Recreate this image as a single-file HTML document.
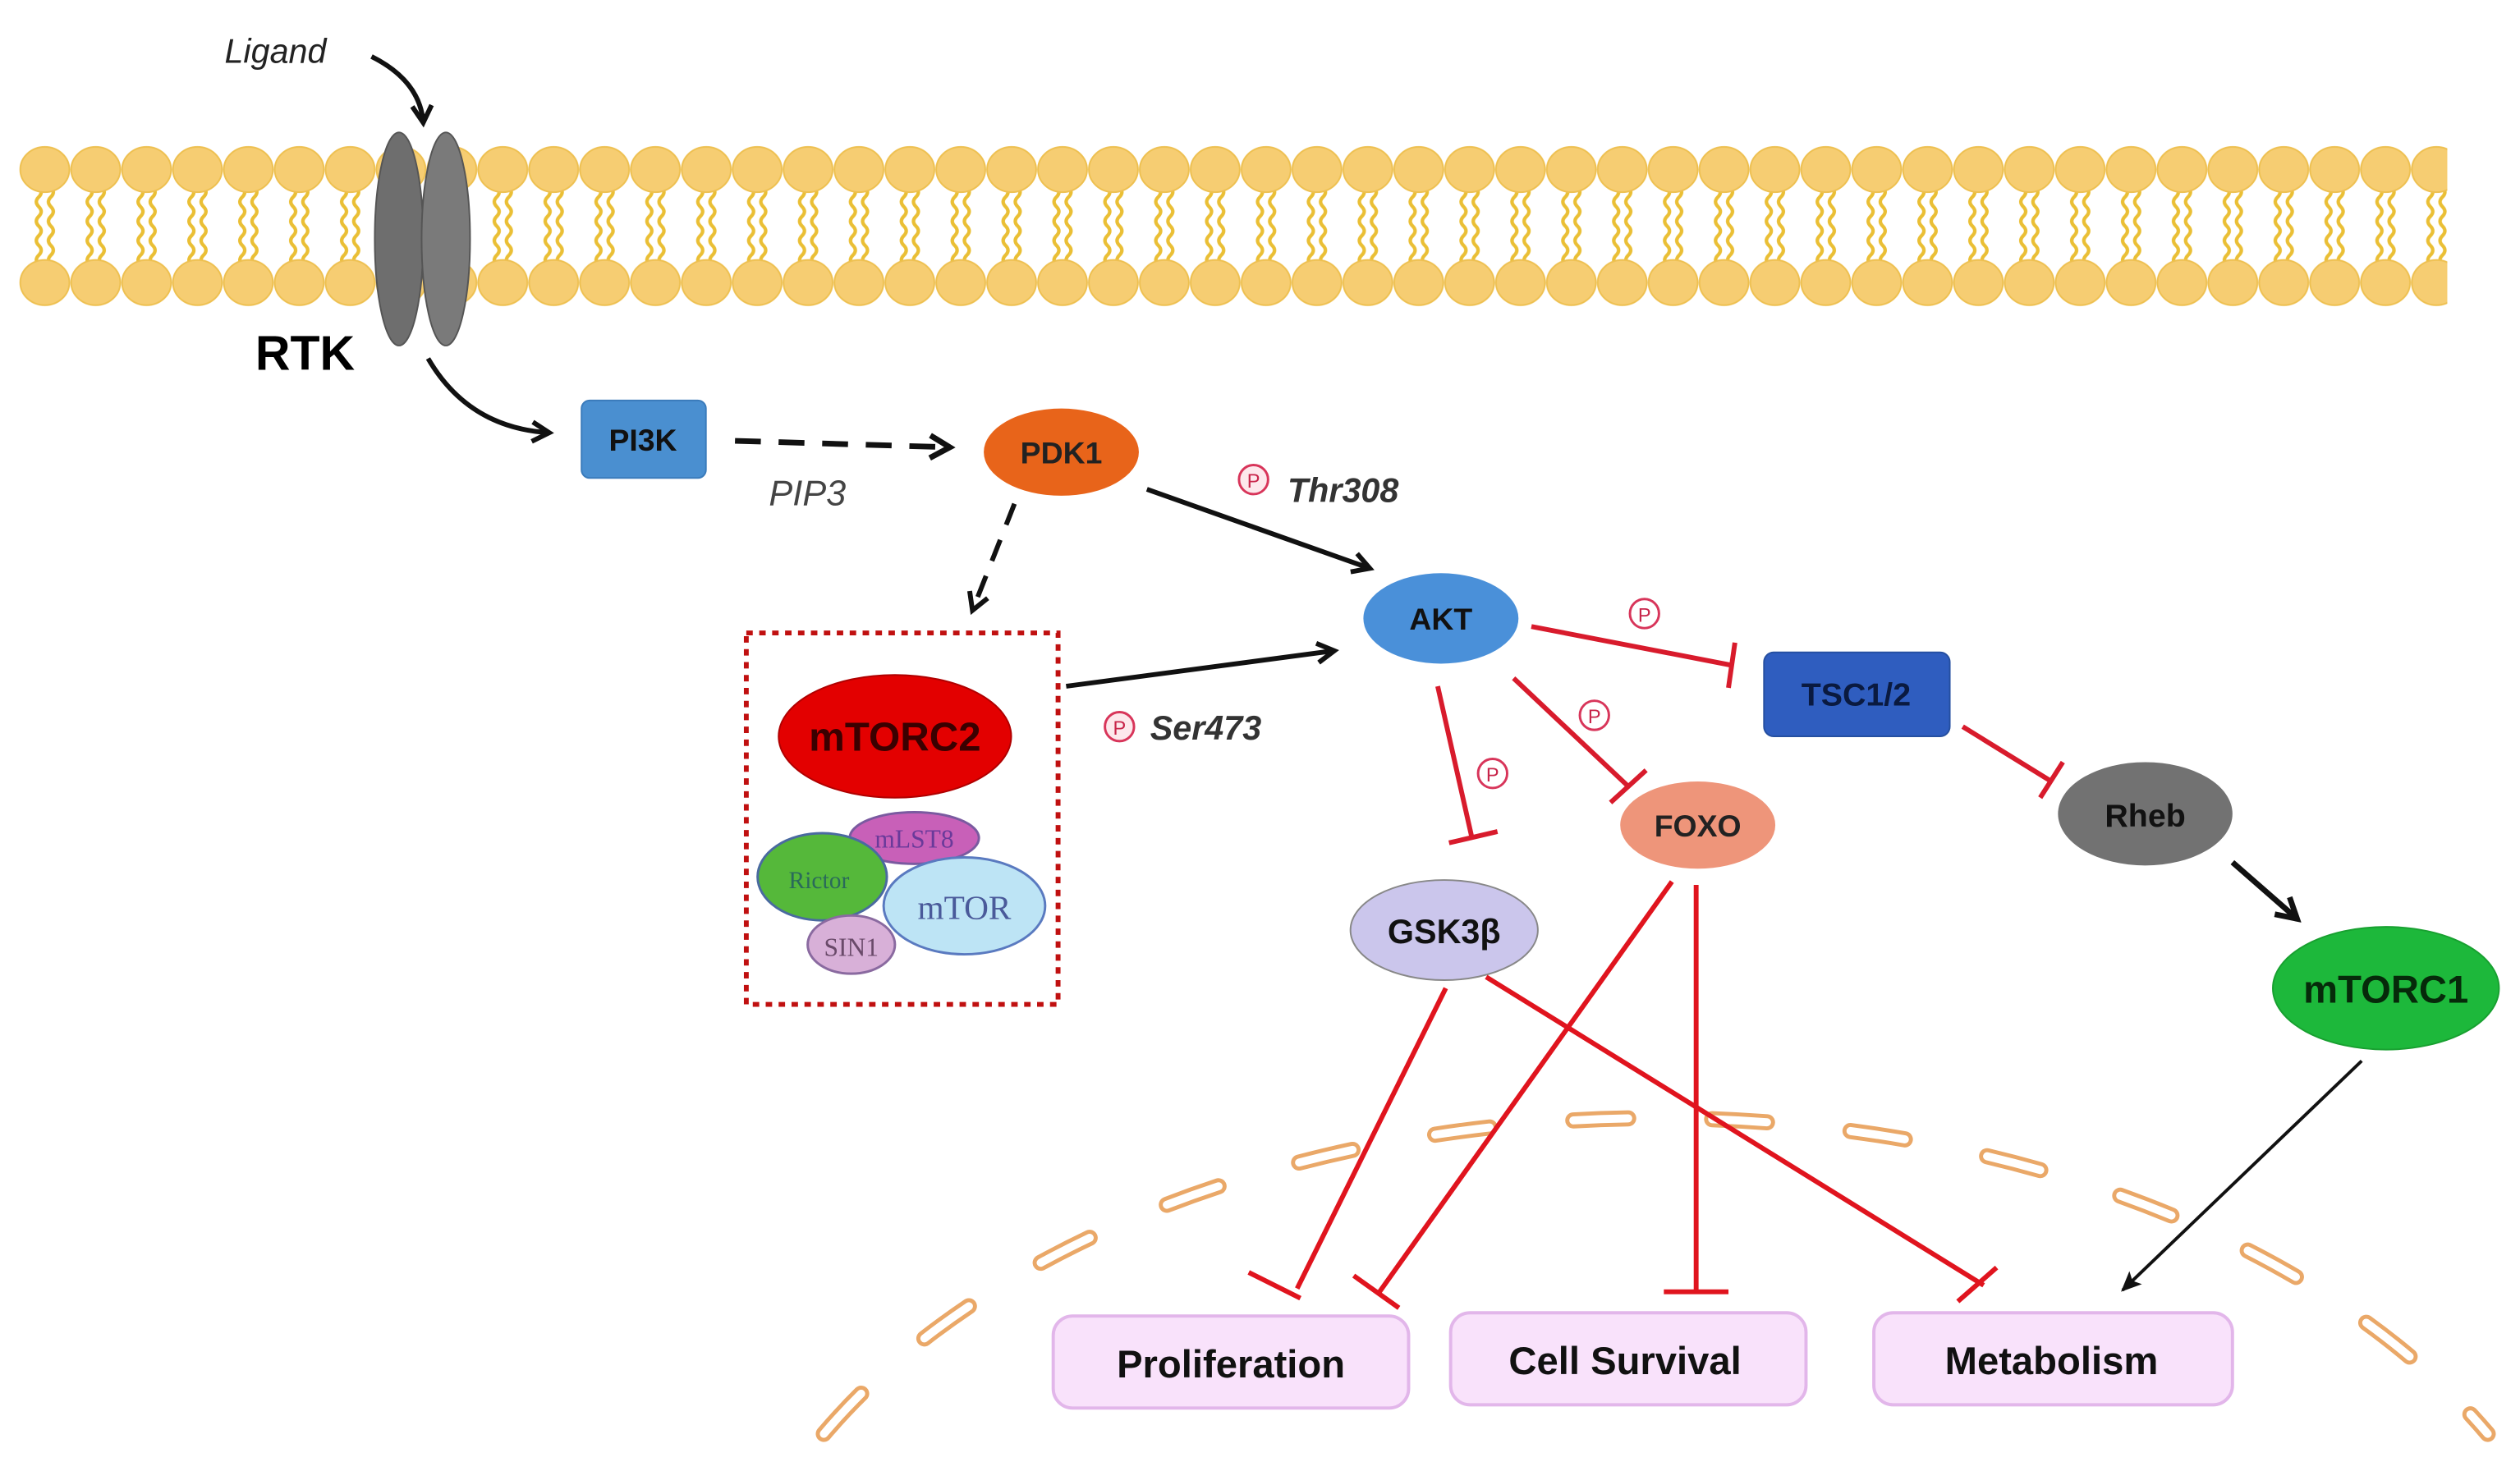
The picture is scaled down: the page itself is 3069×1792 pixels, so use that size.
<!DOCTYPE html>
<html><head><meta charset="utf-8"><style>
html,body{margin:0;padding:0;background:#fff;width:3069px;height:1792px;overflow:hidden;}
svg{display:block;position:absolute;left:0;top:0;}
text{font-family:"Liberation Sans",sans-serif;}
</style></head><body>
<svg width="3069" height="1792" viewBox="0 0 1560 911" preserveAspectRatio="none" xmlns="http://www.w3.org/2000/svg">
<defs>
<pattern id="lip" x="12" y="88" width="31.5" height="104" patternUnits="userSpaceOnUse">
 <path d="M12 28 q3 3 0 6 q-3 3 0 6 q3 3 0 6 q-3 3 0 6 q3 3 0 6 q-3 3 0 6 q3 3 0 6 q-3 3 0 6 q3 3 0 6" fill="none" stroke="#eabf35" stroke-width="2.2"/>
 <path d="M19.5 28 q3 3 0 6 q-3 3 0 6 q3 3 0 6 q-3 3 0 6 q3 3 0 6 q-3 3 0 6 q3 3 0 6 q-3 3 0 6 q3 3 0 6" fill="none" stroke="#eabf35" stroke-width="2.2"/>
 <ellipse cx="15.75" cy="17" rx="15.2" ry="14" fill="#f6cd72" stroke="#eec050" stroke-width="1"/>
 <ellipse cx="15.75" cy="87" rx="15.2" ry="14" fill="#f6cd72" stroke="#eec050" stroke-width="1"/>
</pattern>
<marker id="ab" viewBox="0 0 10 10" refX="8" refY="5" markerWidth="5" markerHeight="5" orient="auto"><path d="M1 1 L8 5 L1 9" fill="none" stroke="#111" stroke-width="2"/></marker>
<marker id="abs" viewBox="0 0 10 10" refX="8" refY="5" markerWidth="7" markerHeight="7" orient="auto"><path d="M0 1 L9 5 L0 9 L2 5 Z" fill="#111"/></marker>
</defs>

<rect x="12" y="88" width="1503" height="104" fill="url(#lip)"/>
<ellipse cx="247" cy="148" rx="15" ry="66" fill="#6e6e6e" stroke="#555" stroke-width="1"/>
<ellipse cx="276" cy="148" rx="15" ry="66" fill="#7a7a7a" stroke="#555" stroke-width="1"/>

<path d="M510 888 A585 372 0 0 1 1540 888" fill="none" stroke="#eaa868" stroke-width="10" stroke-dasharray="34 52" stroke-linecap="round"/>
<path d="M510 888 A585 372 0 0 1 1540 888" fill="none" stroke="#fff" stroke-width="5" stroke-dasharray="34 52" stroke-linecap="round"/>

<text x="139" y="39" font-size="21" font-style="italic" fill="#222">Ligand</text>
<path d="M230 35 Q260 50 262 76" fill="none" stroke="#111" stroke-width="3" marker-end="url(#ab)"/>
<text x="158" y="229" font-size="30" font-weight="bold" fill="#000">RTK</text>
<path d="M265 222 Q290 265 340 268" fill="none" stroke="#111" stroke-width="3" marker-end="url(#ab)"/>

<rect x="360" y="248" width="77" height="48" rx="5" fill="#4a8fd0" stroke="#3a7bbb"/>
<text x="398" y="279" font-size="19" font-weight="bold" text-anchor="middle" fill="#111">PI3K</text>
<line x1="455" y1="273" x2="588" y2="277" stroke="#111" stroke-width="3.5" stroke-dasharray="16 11" marker-end="url(#ab)"/>
<text x="476" y="313" font-size="22" font-style="italic" fill="#444">PIP3</text>

<ellipse cx="657" cy="280" rx="48" ry="27" fill="#e8641a"/>
<text x="657" y="287" font-size="19" font-weight="bold" text-anchor="middle" fill="#222">PDK1</text>
<line x1="628" y1="312" x2="602" y2="378" stroke="#111" stroke-width="3" stroke-dasharray="14 10" marker-end="url(#ab)"/>

<circle cx="776" cy="297" r="9" fill="#fde8ec" stroke="#d8355a" stroke-width="1.5"/><text x="776" y="302" font-size="12" text-anchor="middle" fill="#c8254a">P</text>
<text x="797" y="311" font-size="21" font-style="italic" font-weight="bold" fill="#333">Thr308</text>
<line x1="710" y1="303" x2="848" y2="352" stroke="#111" stroke-width="3" marker-end="url(#ab)"/>

<ellipse cx="892" cy="383" rx="48" ry="28" fill="#4a90d9"/>
<text x="892" y="390" font-size="19" font-weight="bold" text-anchor="middle" fill="#111">AKT</text>

<rect x="462" y="392" width="193" height="230" fill="none" stroke="#c01010" stroke-width="3" stroke-dasharray="4 4"/>
<ellipse cx="554" cy="456" rx="72" ry="38" fill="#e30000" stroke="#b00000"/>
<text x="554" y="465" font-size="25" font-weight="bold" text-anchor="middle" fill="#3a0000">mTORC2</text>
<ellipse cx="566" cy="519" rx="40" ry="16" fill="#c860b8" stroke="#7a5aa0" stroke-width="1.5"/>
<ellipse cx="509" cy="543" rx="40" ry="27" fill="#55b83a" stroke="#4a6aa0" stroke-width="1.5"/>
<ellipse cx="597" cy="561" rx="50" ry="30" fill="#bde4f5" stroke="#5a7ac0" stroke-width="1.5"/>
<ellipse cx="527" cy="585" rx="27" ry="18" fill="#d8b0d8" stroke="#8a6aa0" stroke-width="1.5"/>
<text x="566" y="525" font-size="16" text-anchor="middle" fill="#6a3a9a" style="font-family:'Liberation Serif',serif">mLST8</text>
<text x="507" y="550" font-size="15" text-anchor="middle" fill="#2a6a5a" style="font-family:'Liberation Serif',serif">Rictor</text>
<text x="597" y="569" font-size="21" text-anchor="middle" fill="#4a5a9a" style="font-family:'Liberation Serif',serif">mTOR</text>
<text x="527" y="592" font-size="16" text-anchor="middle" fill="#6a4a6a" style="font-family:'Liberation Serif',serif">SIN1</text>

<line x1="660" y1="425" x2="826" y2="403" stroke="#111" stroke-width="3" marker-end="url(#ab)"/>
<circle cx="693" cy="450" r="9" fill="#fde8ec" stroke="#d8355a" stroke-width="1.5"/><text x="693" y="455" font-size="12" text-anchor="middle" fill="#c8254a">P</text>
<text x="712" y="458" font-size="21" font-style="italic" font-weight="bold" fill="#333">Ser473</text>

<g stroke="#d81b2c" stroke-width="3" fill="none">
<line x1="948" y1="388" x2="1072" y2="412"/><line x1="1074" y1="398" x2="1070" y2="426"/>
<line x1="937" y1="420" x2="1008" y2="487"/><line x1="997" y1="497" x2="1019" y2="477"/>
<line x1="890" y1="425" x2="911" y2="518"/><line x1="897" y1="522" x2="927" y2="515"/>
<line x1="1215" y1="450" x2="1270" y2="484"/><line x1="1263" y1="494" x2="1277" y2="472"/>
</g>
<g fill="#fff" stroke="#d8355a" stroke-width="1.5">
<circle cx="1018" cy="380" r="9"/><circle cx="987" cy="443" r="9"/><circle cx="924" cy="479" r="9"/>
</g>
<g font-size="12" text-anchor="middle" fill="#c8254a">
<text x="1018" y="385">P</text><text x="987" y="448">P</text><text x="924" y="484">P</text>
</g>

<rect x="1092" y="404" width="115" height="52" rx="6" fill="#2f5dbf" stroke="#254fa0"/>
<text x="1149" y="437" font-size="20" font-weight="bold" text-anchor="middle" fill="#0a1a40">TSC1/2</text>

<ellipse cx="1051" cy="511" rx="48" ry="27" fill="#ee957a"/>
<text x="1051" y="518" font-size="19" font-weight="bold" text-anchor="middle" fill="#222">FOXO</text>
<ellipse cx="894" cy="576" rx="58" ry="31" fill="#cbc6ec" stroke="#888" stroke-width="1"/>
<text x="894" y="584" font-size="21" font-weight="bold" text-anchor="middle" fill="#111">GSK3β</text>

<ellipse cx="1328" cy="504" rx="54" ry="32" fill="#727272"/>
<text x="1328" y="512" font-size="20" font-weight="bold" text-anchor="middle" fill="#111">Rheb</text>
<line x1="1382" y1="534" x2="1422" y2="569" stroke="#111" stroke-width="3.5" marker-end="url(#ab)"/>
<ellipse cx="1477" cy="612" rx="70" ry="38" fill="#1db83b" stroke="#18a030"/>
<text x="1477" y="621" font-size="24" font-weight="bold" text-anchor="middle" fill="#062a0a">mTORC1</text>
<line x1="1462" y1="657" x2="1314" y2="799" stroke="#111" stroke-width="2" marker-end="url(#abs)"/>

<g stroke="#e0141e" stroke-width="3" fill="none">
<line x1="895" y1="612" x2="803" y2="798"/><line x1="773" y1="788" x2="805" y2="804"/>
<line x1="1035" y1="546" x2="854" y2="800"/><line x1="838" y1="790" x2="866" y2="810"/>
<line x1="1050" y1="548" x2="1050" y2="800"/><line x1="1030" y1="800" x2="1070" y2="800"/>
<line x1="920" y1="605" x2="1228" y2="796"/><line x1="1212" y1="806" x2="1236" y2="785"/>
</g>

<g fill="#f9e2fb" stroke="#e2b6ea" stroke-width="2">
<rect x="652" y="815" width="220" height="57" rx="12"/>
<rect x="898" y="813" width="220" height="57" rx="12"/>
<rect x="1160" y="813" width="222" height="57" rx="12"/>
</g>
<g font-size="24" font-weight="bold" text-anchor="middle" fill="#111">
<text x="762" y="853">Proliferation</text>
<text x="1006" y="851">Cell Survival</text>
<text x="1270" y="851">Metabolism</text>
</g>
</svg>
</body></html>
